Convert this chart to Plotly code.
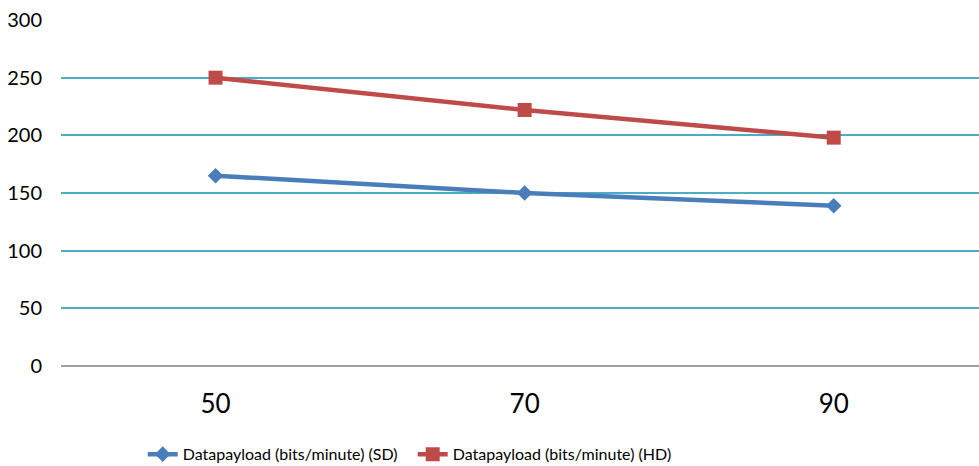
import plotly.graph_objects as go

categories = ["50", "70", "90"]
sd_values = [165, 150, 139]
hd_values = [250, 222, 198]
y_ticks = [0, 50, 100, 150, 200, 250, 300]

FONT = "Lato, 'Open Sans', sans-serif"

fig = go.Figure()
fig.add_trace(go.Scatter(
    x=categories, y=sd_values, mode="lines+markers",
    name="Datapayload (bits/minute) (SD)",
    line=dict(color="#4A7EBB", width=4.5),
    marker=dict(symbol="diamond", size=12, color="#4A7EBB"),
))
fig.add_trace(go.Scatter(
    x=categories, y=hd_values, mode="lines+markers",
    name="Datapayload (bits/minute) (HD)",
    line=dict(color="#BE4B48", width=4.5),
    marker=dict(symbol="square", size=14, color="#BE4B48"),
))

fig.update_layout(
    width=979, height=466,
    margin=dict(l=61, r=0, t=20, b=99.5, autoexpand=False),
    plot_bgcolor="white", paper_bgcolor="white",
    font=dict(family=FONT, color="#000000"),
    showlegend=True,
    legend=dict(orientation="h", x=0.089, xanchor="left", y=-0.255, yanchor="middle",
                font=dict(size=16), entrywidth=225, tracegroupgap=0),
)
fig.update_xaxes(
    type="category", range=[-0.5, 2.47], automargin=False,
    showgrid=False, showline=False, ticks="",
    tickfont=dict(size=26), ticklabelstandoff=20,
)
fig.update_yaxes(
    range=[0, 300], tickvals=y_ticks, automargin=False,
    showgrid=True, gridcolor="#4BACC6", gridwidth=1.5,
    zeroline=True, zerolinecolor="#A0A0A0", zerolinewidth=1.5,
    showline=False, ticks="",
    tickfont=dict(size=20), ticklabelstandoff=18,
)

fig.write_html("out.html", config={"displayModeBar": False},
               post_script="document.body.style.margin='0';")
